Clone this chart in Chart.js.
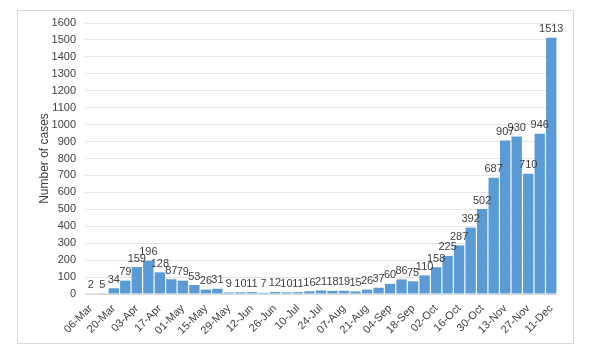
<!DOCTYPE html>
<html>
<head>
<meta charset="utf-8">
<script src="https://cdn.jsdelivr.net/npm/chart.js@4"></script>
<style>
  html, body { margin: 0; padding: 0; background: #fff; }
  #wrap { position: relative; width: 589px; height: 356px; }
  #frame { position: absolute; left: 17px; top: 10px; width: 555px; height: 332px; border: 1px solid #d9d9d9; }
  canvas { position: absolute; left: 0; top: 0; }
</style>
</head>
<body>
<div id="wrap">
  <div id="frame"></div>
  <canvas id="chart" width="589" height="356"></canvas>
</div>
<script>
// weekly cases, one bar per week starting 06-Mar
const weeks = [
  '06-Mar', '13-Mar', '20-Mar', '27-Mar', '03-Apr', '10-Apr', '17-Apr', '24-Apr',
  '01-May', '08-May', '15-May', '22-May', '29-May', '05-Jun', '12-Jun', '19-Jun',
  '26-Jun', '03-Jul', '10-Jul', '17-Jul', '24-Jul', '31-Jul', '07-Aug', '14-Aug',
  '21-Aug', '28-Aug', '04-Sep', '11-Sep', '18-Sep', '25-Sep', '02-Oct', '09-Oct',
  '16-Oct', '23-Oct', '30-Oct', '06-Nov', '13-Nov', '20-Nov', '27-Nov', '04-Dec', '11-Dec'
];
const cases = [
  2, 5, 34, 79, 159, 196, 128, 87, 79, 53, 26, 31, 9, 10, 11, 7, 12, 10, 11, 16,
  21, 18, 19, 15, 26, 37, 60, 86, 75, 110, 158, 225, 287, 392, 502, 687, 907, 930,
  710, 946, 1513
];
const yMax = 1600;
const yStep = 100;

const labelColor = '#404040';
const font = 'Liberation Sans, Arial, sans-serif';

// draw the value above each bar
const valueLabels = {
  id: 'valueLabels',
  afterDatasetsDraw(chart) {
    const ctx = chart.ctx;
    const meta = chart.getDatasetMeta(0);
    ctx.save();
    ctx.fillStyle = labelColor;
    ctx.font = '11px ' + font;
    ctx.textAlign = 'center';
    ctx.textBaseline = 'bottom';
    meta.data.forEach((bar, i) => {
      ctx.fillText(String(cases[i]), bar.x, bar.y - 3);
    });
    ctx.restore();
  }
};

new Chart(document.getElementById('chart'), {
  type: 'bar',
  data: {
    labels: weeks,
    datasets: [{
      data: cases,
      backgroundColor: '#5b9bd5',
      borderWidth: 0,
      barPercentage: 0.9,
      categoryPercentage: 1
    }]
  },
  options: {
    responsive: false,
    animation: false,
    layout: { padding: { left: 37, top: 23, right: 32, bottom: 10 } },
    plugins: { legend: { display: false }, tooltip: { enabled: false } },
    scales: {
      x: {
        grid: { display: false },
        border: { color: '#d9d9d9' },
        ticks: {
          autoSkip: false,
          maxRotation: 45,
          minRotation: 45,
          color: labelColor,
          font: { family: font, size: 11 },
          padding: 0,
          callback: (v, i) => (i % 2 === 0 ? weeks[i] : '')
        },
        afterFit: s => { s.height = 52; }
      },
      y: {
        min: 0,
        max: yMax,
        grid: { color: '#e6e6e6', drawTicks: false },
        border: { display: false },
        ticks: {
          stepSize: yStep,
          color: labelColor,
          font: { family: font, size: 11 },
          padding: 9,
          callback: v => String(v)
        },
        title: {
          display: true,
          text: 'Number of cases',
          color: labelColor,
          font: { family: font, size: 12 },
          padding: { top: 0, bottom: 0 }
        },
        afterFit: s => { s.width = 48; }
      }
    }
  },
  plugins: [valueLabels]
});
</script>
</body>
</html>
